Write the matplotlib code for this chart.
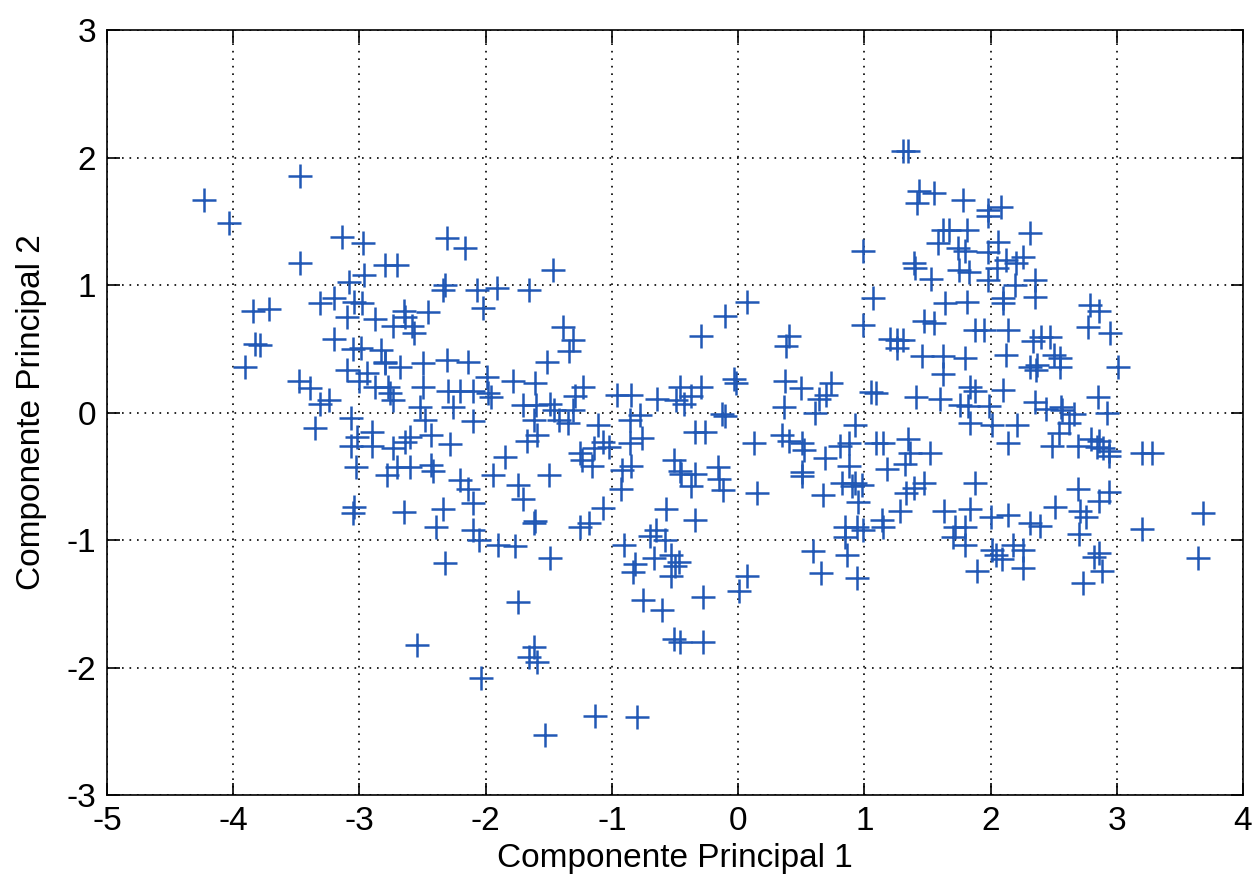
import numpy as np
import matplotlib
matplotlib.use('Agg')
import matplotlib.pyplot as plt

# points (Componente Principal 1, Componente Principal 2)
pc1_top = [-3.47, -4.23, -4.03, -3.14, -2.97, -3.47, -2.80, -2.70, -2.96, -3.08, -2.31, -2.16, -1.47,
           1.31, 1.35, 1.43, 1.55, 1.42, 1.78, 0.99, 1.62, 1.67, 1.58, 1.74, 1.39, 1.40, 1.53, 1.75,
           1.98, 2.08, 1.98, 1.81, 2.31, 2.06, 1.80, 1.98, 2.12, 2.20, 2.26, 1.83, 2.05, 1.98, 2.19, 2.35]
pc2_top = [1.855, 1.67, 1.49, 1.38, 1.33, 1.17, 1.16, 1.16, 1.08, 1.02, 1.37, 1.29, 1.12,
           2.05, 2.05, 1.74, 1.72, 1.64, 1.67, 1.27, 1.43, 1.43, 1.33, 1.29, 1.17, 1.13, 1.05, 1.12,
           1.59, 1.61, 1.54, 1.43, 1.41, 1.34, 1.27, 1.26, 1.20, 1.17, 1.22, 1.10, 1.13, 1.04, 1.00, 1.04]

pc1_left = [-3.84, -3.72, -3.83, -3.79, -3.91, -3.48, -3.39, -3.31, -3.24, -3.35, -3.20, -3.31, -3.04, -2.98,
            -2.88, -3.10, -2.73, -3.20, -2.99, -3.05, -2.83, -2.80, -3.10, -2.94, -3.00, -2.88, -2.77,
            -2.73, -3.07, -2.90, -3.02, -3.07, -2.90, -2.73, -3.03, -2.78, -3.04, -3.05]
pc2_left = [0.80, 0.81, 0.54, 0.53, 0.36, 0.25, 0.19, 0.07, 0.10, -0.12, 0.90, 0.86, 0.87, 0.86,
            0.73, 0.75, 0.68, 0.58, 0.51, 0.50, 0.49, 0.39, 0.33, 0.31, 0.25, 0.20, 0.20,
            0.10, -0.04, -0.15, -0.19, -0.26, -0.26, -0.28, -0.43, -0.49, -0.74, -0.79]

pc1_midleft = [-2.34, -2.32, -2.07, -1.91, -1.66, -2.02, -2.65, -2.46, -2.58, -2.57, -2.64, -1.39, -1.31,
               -1.34, -1.51, -2.80, -2.68, -2.50, -2.31, -2.14, -1.99, -1.78, -1.61, -1.23, -2.50, -2.30,
               -2.20, -2.10, -1.98, -1.96, -2.76, -2.52, -2.26, -1.70, -1.60, -1.49, -1.46, -1.31, -1.29,
               -0.96, -0.85, -0.64, -0.49, -2.48, -2.10, -1.62, -1.42, -1.35, -1.11, -0.86, -0.78,
               -2.60, -2.43, -1.59, -1.67, -1.07, -0.76, -0.86, -2.64, -2.28, -1.85, -1.25, -1.24,
               -1.14, -1.02, -0.51, -2.70, -2.60, -2.43, -2.42, -1.16, -0.92, -0.85, -1.94, -1.50,
               -0.45, -2.20, -1.74, -2.14, -0.93, -1.70, -2.10, -1.07, -2.65, -2.34, -0.57, -2.39,
               -2.10, -1.62, -1.61, -1.25, -1.18, -0.65]
pc2_midleft = [0.96, 1.00, 0.96, 0.98, 0.96, 0.82, 0.80, 0.79, 0.68, 0.62, 0.75, 0.67, 0.57,
               0.48, 0.40, 0.40, 0.36, 0.39, 0.41, 0.40, 0.28, 0.25, 0.23, 0.20, 0.20, 0.17,
               0.17, 0.17, 0.15, 0.12, 0.15, 0.04, 0.04, 0.06, 0.06, 0.07, 0.02, 0.02, 0.13,
               0.14, 0.14, 0.11, 0.10, -0.06, -0.07, -0.06, -0.06, -0.08, -0.10, -0.06, -0.02,
               -0.19, -0.18, -0.18, -0.22, -0.23, -0.20, -0.24, -0.23, -0.25, -0.35, -0.32, -0.37,
               -0.28, -0.27, -0.37, -0.43, -0.43, -0.41, -0.46, -0.42, -0.45, -0.42, -0.49, -0.49,
               -0.48, -0.53, -0.57, -0.60, -0.60, -0.68, -0.71, -0.75, -0.78, -0.76, -0.76, -0.90,
               -0.92, -0.87, -0.85, -0.90, -0.87, -0.92]

pc1_mid = [0.07, -0.10, -0.29, 0.40, 0.38, 0.99, 1.07, 1.64, 1.47, 1.55, 1.20, 1.26, 1.31, 1.26, 1.46,
           1.62, 1.62, -0.02, -0.03, -0.29, -0.46, -0.43, -0.37, 0.37, 0.50, 0.74, 0.70, 0.64, 1.05,
           1.09, 0.36, 0.61, 1.41, 1.60, -0.13, -0.10, -0.34, -0.26, 0.13, 0.35, 0.40, 0.51, 0.93,
           0.88, 0.81, 1.09, 1.15, 1.35, 1.52, 1.36, 1.32, 1.18, 0.52, 0.51, 0.51, 0.69, 0.88, -0.16,
           -0.34, -0.46, -0.15, -0.12, -0.37, 0.82, 0.93, 0.98, 0.90, 0.15, 0.67, 0.95, 1.39, 1.47,
           1.33, 1.28, 1.63, -0.34, 0.85, 0.94, 0.99, 1.14, 1.15, 1.72]
pc2_mid = [0.87, 0.76, 0.60, 0.60, 0.52, 0.69, 0.90, 0.86, 0.72, 0.70, 0.58, 0.57, 0.57, 0.51, 0.44,
           0.44, 0.30, 0.23, 0.26, 0.20, 0.20, 0.07, 0.13, 0.25, 0.19, 0.23, 0.14, 0.11, 0.16,
           0.15, 0.04, 0.00, 0.12, 0.11, -0.01, -0.03, -0.15, -0.15, -0.24, -0.18, -0.22, -0.24, -0.10,
           -0.24, -0.26, -0.24, -0.24, -0.21, -0.32, -0.32, -0.40, -0.44, -0.29, -0.47, -0.50, -0.36, -0.42, -0.43,
           -0.48, -0.46, -0.52, -0.61, -0.58, -0.55, -0.55, -0.57, -0.58, -0.63, -0.65, -0.70, -0.59, -0.55,
           -0.63, -0.77, -0.77, -0.84, -0.90, -0.90, -0.92, -0.84, -0.90, -0.90]

pc1_right = [1.81, 2.10, 2.10, 2.35, 2.79, 2.86, 1.88, 1.95, 2.14, 2.77, 2.95, 2.34, 2.40, 2.47, 1.80,
             2.12, 2.31, 2.37, 2.36, 2.50, 2.55, 2.55, 3.01, 1.84, 1.88, 2.10, 2.85, 1.76, 1.82, 1.99,
             2.35, 2.44, 2.56, 2.57, 2.66, 2.92, 1.84, 2.01, 2.21, 2.62, 2.54, 2.14, 2.80, 2.86, 2.49,
             2.69, 2.84, 2.89, 2.94, 3.20, 3.28, 2.94, 1.88, 2.69, 2.94, 2.86, 2.51, 2.71, 2.76, 1.84,
             2.00, 2.14, 2.31, 2.39, 3.68, 3.20, 1.80]
pc2_right = [0.87, 0.86, 0.90, 0.91, 0.84, 0.80, 0.65, 0.65, 0.65, 0.67, 0.62, 0.56, 0.59, 0.59, 0.43,
             0.45, 0.36, 0.37, 0.33, 0.45, 0.43, 0.36, 0.36, 0.20, 0.17, 0.18, 0.12, 0.06, 0.05, 0.05,
             0.08, 0.03, 0.04, 0.02, -0.01, 0.00, -0.08, -0.10, -0.10, -0.08, -0.16, -0.24, -0.21, -0.22, -0.26,
             -0.26, -0.27, -0.28, -0.30, -0.32, -0.32, -0.34, -0.55, -0.60, -0.62, -0.69, -0.74, -0.77, -0.82, -0.76,
             -0.82, -0.80, -0.87, -0.89, -0.79, -0.91, -0.90]

pc1_bottom = [-2.32, -2.54, -1.74, -1.62, -1.66, -1.59, -2.04, -1.49, -1.90, -1.77, -2.05, -0.90, -0.82,
              -0.83, -0.67, -0.53, -0.50, -0.53, -0.75, -0.60, -0.51, -1.13, -0.80, -1.53, -0.70, -0.58,
              0.59, 0.66, 0.85, 0.86, 0.94, 0.07, 0.01, -0.28, -0.28, -0.46, -0.47, 1.70,
              1.80, 2.01, 2.04, 2.09, 1.89, 2.18, 2.26, 2.26, 2.73, 2.86, 2.82, 2.88, 3.64, 2.70]
pc2_bottom = [-1.18, -1.82, -1.49, -1.84, -1.92, -1.96, -2.08, -1.14, -1.04, -1.05, -1.00, -1.04, -1.19,
              -1.25, -1.14, -1.12, -1.20, -1.28, -1.47, -1.55, -1.78, -2.38, -2.39, -2.53, -0.97, -1.00,
              -1.09, -1.26, -0.98, -1.12, -1.30, -1.28, -1.40, -1.45, -1.80, -1.80, -1.17, -0.98,
              -1.04, -1.08, -1.12, -1.15, -1.24, -1.04, -1.08, -1.22, -1.34, -1.10, -1.13, -1.24, -1.14, -0.95]

pc1 = pc1_top + pc1_left + pc1_midleft + pc1_mid + pc1_right + pc1_bottom
pc2 = pc2_top + pc2_left + pc2_midleft + pc2_mid + pc2_right + pc2_bottom

plt.rcParams['font.family'] = ['Liberation Sans', 'DejaVu Sans']
plt.rcParams['axes.unicode_minus'] = False

fig = plt.figure(figsize=(12.54, 8.81), dpi=100)
ax = fig.add_axes([0.0853, 0.0976, 0.9059, 0.8683])
ax.plot(pc1, pc2, '+', color='#2158b5', markersize=17, markeredgewidth=1.8)

ax.set_xlim(-5, 4)
ax.set_ylim(-3, 3)
ax.set_xticks(np.arange(-5, 5, 1))
ax.set_yticks(np.arange(-3, 4, 1))
ax.grid(True, color='black', linestyle=(0, (1, 3.5)), linewidth=1.2)
ax.tick_params(direction='in', top=True, right=True, length=9, width=1.2, labelsize=24, pad=8)
for s in ax.spines.values():
    s.set_linewidth(1.2)
ax.set_xlabel('Componente Principal 1', fontsize=24, labelpad=4)
ax.set_ylabel('Componente Principal 2', fontsize=24, labelpad=14)

fig.savefig('out.png', dpi=100)
